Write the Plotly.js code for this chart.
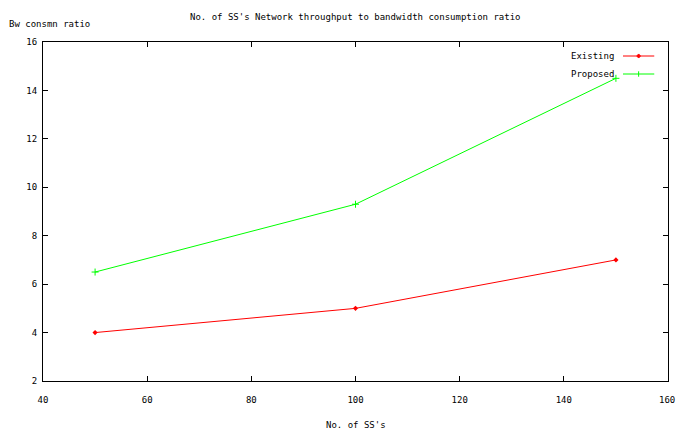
<!DOCTYPE html>
<html>
<head>
<meta charset="utf-8">
<script src="https://cdn.plot.ly/plotly-3.0.1.min.js"></script>
<style>html,body{margin:0;padding:0;background:#fff;}#chart{width:676px;height:430px;}</style>
</head>
<body>
<div id="chart"></div>
<script>
const xValues = [50, 100, 150];
const existing = [4, 5, 7];
const proposed = [6.5, 9.3, 14.5];
const seriesNames = ["Existing", "Proposed"];
const xTicks = [40, 60, 80, 100, 120, 140, 160];
const yTicks = [2, 4, 6, 8, 10, 12, 14, 16];

const FONT = {family: "DejaVu Sans Mono, Liberation Mono, monospace", size: 9, color: "#000"};
const RED = "#ff0000", GREEN = "#00ff00";

const traces = [
  {x: xValues, y: existing, name: seriesNames[0], mode: "lines+markers",
   line: {color: RED, width: 1}, marker: {symbol: "diamond", size: 4, color: RED}},
  {x: xValues, y: proposed, name: seriesNames[1], mode: "lines+markers",
   line: {color: GREEN, width: 1}, marker: {symbol: "cross-thin", size: 5, line: {color: GREEN, width: 1}}}
];

const axisCommon = {showgrid: false, zeroline: false, showline: true, linecolor: "#000", linewidth: 1,
  mirror: "ticks", ticks: "inside", ticklen: 5, tickcolor: "#000", tickwidth: 1, tickfont: FONT, fixedrange: true};

// legend drawn at top right: text then line sample on the right (gnuplot style)
const legX0 = 0.928, legX1 = 0.978, legTextX = 0.916;
const legY = [0.9587, 0.9056];
const colors = [RED, GREEN];
const shapes = [], annotations = [];
seriesNames.forEach((n, i) => {
  shapes.push({type: "line", xref: "paper", yref: "paper", x0: legX0, x1: legX1, y0: legY[i], y1: legY[i],
    line: {color: colors[i], width: 1}});
  annotations.push({xref: "paper", yref: "paper", x: legTextX, y: legY[i], xanchor: "right", yanchor: "middle",
    text: n, showarrow: false, font: FONT});
});
const mid = (legX0 + legX1) / 2;
// legend markers
shapes.push({type: "path", xref: "paper", yref: "paper",
  path: `M ${mid - 0.003} ${legY[0]} L ${mid} ${legY[0] + 0.006} L ${mid + 0.003} ${legY[0]} L ${mid} ${legY[0] - 0.006} Z`,
  fillcolor: RED, line: {color: RED, width: 1}});
shapes.push({type: "line", xref: "paper", yref: "paper", x0: mid, x1: mid, y0: legY[1] - 0.008, y1: legY[1] + 0.008,
  line: {color: GREEN, width: 1}});

// last x tick label, placed so it stays inside the page edge
const lastTick = xTicks[xTicks.length - 1];
annotations.push({xref: "x", yref: "paper", x: lastTick, y: 0, xanchor: "center", yanchor: "top",
  xshift: -1, yshift: -12, text: String(lastTick), showarrow: false, font: FONT});

annotations.push({xref: "paper", yref: "paper", x: 0.5, y: 1, xanchor: "center", yanchor: "middle",
  xshift: 0, yshift: 25, text: "No. of SS's Network throughput to bandwidth consumption ratio", showarrow: false, font: FONT});
annotations.push({xref: "paper", yref: "paper", x: 0, y: 1, xanchor: "left", yanchor: "middle",
  xshift: -36, yshift: 18, text: "Bw consmn ratio", showarrow: false, font: FONT});
annotations.push({xref: "paper", yref: "paper", x: 0.5, y: 0, xanchor: "center", yanchor: "middle",
  xshift: 0, yshift: -44, text: "No. of SS's", showarrow: false, font: FONT});

const layout = {
  width: 676, height: 430,
  margin: {l: 43, r: 8, t: 42, b: 49, pad: 0},
  paper_bgcolor: "#fff", plot_bgcolor: "#fff",
  showlegend: false,
  font: FONT,
  xaxis: Object.assign({}, axisCommon, {range: [40, 160], tickvals: xTicks.slice(0, -1),
    ticktext: xTicks.slice(0, -1).map(String), ticklabelstandoff: 10}),
  yaxis: Object.assign({}, axisCommon, {range: [2, 16], tickvals: yTicks, ticktext: yTicks.map(String), ticklabelstandoff: 3}),
  shapes: shapes,
  annotations: annotations
};

Plotly.newPlot("chart", traces, layout, {displayModeBar: false, staticPlot: true});
</script>
</body>
</html>
